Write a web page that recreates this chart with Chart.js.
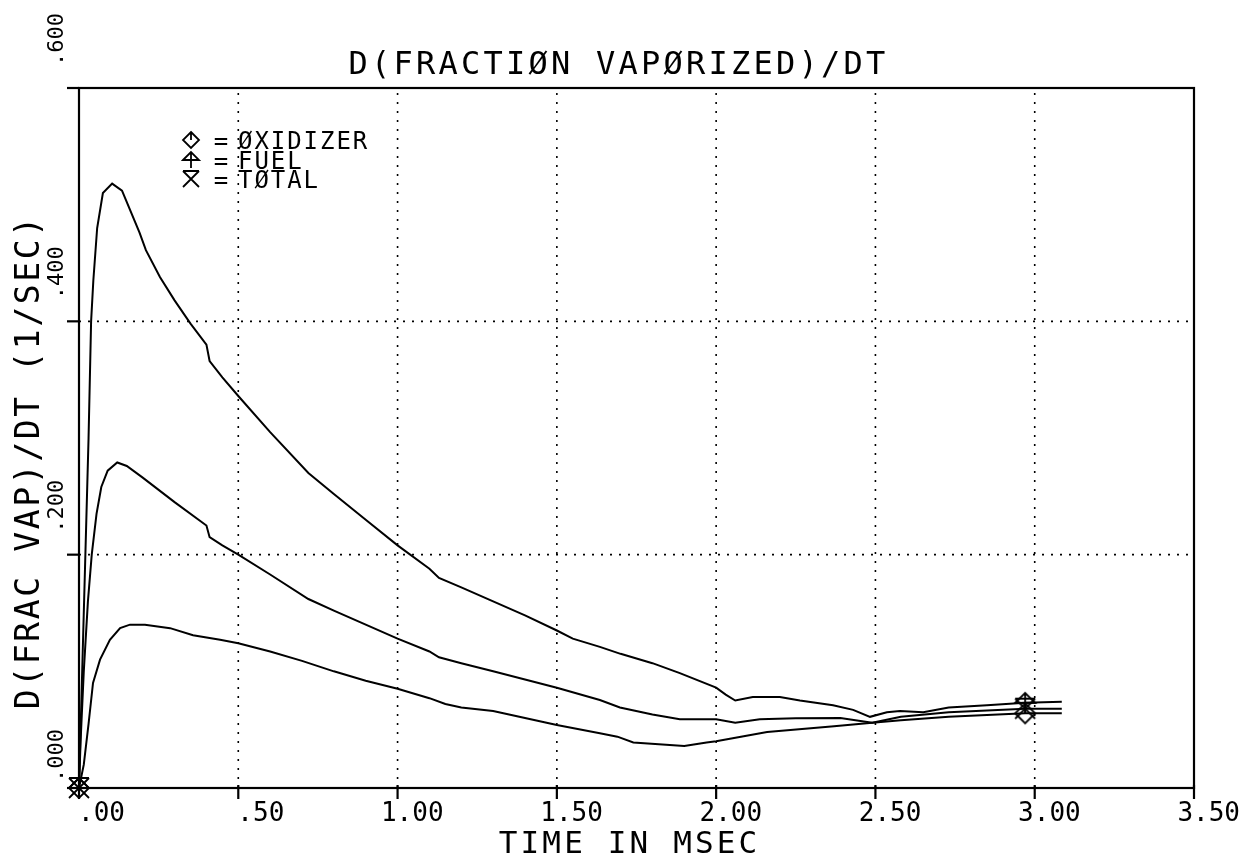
<!DOCTYPE html>
<html><head><meta charset="utf-8">
<script src="https://cdn.jsdelivr.net/npm/chart.js@4.4.1/dist/chart.umd.min.js"></script>
<style>html,body{margin:0;padding:0;background:#fff;}canvas{display:block;}</style>
</head><body>
<canvas id="c" width="1249" height="860"></canvas>
<script>
const chartTitle = 'D(FRACTIØN VAPØRIZED)/DT';
const xAxisTitle = 'TIME IN MSEC';
const yAxisTitle = 'D(FRAC VAP)/DT (1/SEC)';
const xTickLabels = ['.00', '.50', '1.00', '1.50', '2.00', '2.50', '3.00', '3.50'];
const yTickLabels = ['.000', '.200', '.400', '.600'];
const seriesNames = ['ØXIDIZER', 'FUEL', 'TØTAL'];
const markerTimes = [0, 2.97];

const fuelTime = [0, 0.01, 0.02, 0.03, 0.038, 0.045, 0.057, 0.075, 0.104, 0.135, 0.19, 0.21, 0.254, 0.3, 0.35, 0.4, 0.41, 0.45, 0.5, 0.6, 0.72, 0.8, 0.9, 1.0, 1.1, 1.13, 1.2, 1.3, 1.4, 1.5, 1.55, 1.635, 1.7, 1.8, 1.886, 2.0, 2.03, 2.06, 2.115, 2.2, 2.263, 2.367, 2.43, 2.483, 2.536, 2.577, 2.65, 2.73, 2.85, 2.97, 3.085];
const fuelRate = [0, 0.1, 0.2, 0.3, 0.4, 0.435, 0.48, 0.51, 0.518, 0.512, 0.476, 0.461, 0.438, 0.418, 0.398, 0.38, 0.366, 0.352, 0.336, 0.305, 0.27, 0.252, 0.23, 0.208, 0.188, 0.18, 0.172, 0.16, 0.148, 0.135, 0.128, 0.121, 0.115, 0.107, 0.0985, 0.086, 0.08, 0.075, 0.078, 0.078, 0.075, 0.071, 0.067, 0.061, 0.065, 0.066, 0.065, 0.069, 0.071, 0.073, 0.074];

const totalTime = [0, 0.005, 0.015, 0.028, 0.04, 0.055, 0.07, 0.09, 0.12, 0.15, 0.2, 0.3, 0.4, 0.41, 0.45, 0.5, 0.6, 0.72, 0.8, 0.9, 1.0, 1.1, 1.13, 1.2, 1.3, 1.4, 1.5, 1.635, 1.698, 1.8, 1.886, 2.0, 2.06, 2.137, 2.25, 2.39, 2.49, 2.58, 2.73, 2.97, 3.085];
const totalRate = [0, 0.04, 0.1, 0.16, 0.2, 0.235, 0.258, 0.272, 0.279, 0.276, 0.266, 0.245, 0.225, 0.215, 0.208, 0.2, 0.183, 0.162, 0.152, 0.14, 0.128, 0.117, 0.112, 0.107, 0.1, 0.093, 0.086, 0.0754, 0.069, 0.063, 0.059, 0.059, 0.056, 0.059, 0.0598, 0.06, 0.056, 0.061, 0.065, 0.068, 0.068];

const oxTime = [0, 0.015, 0.03, 0.044, 0.066, 0.097, 0.129, 0.16, 0.207, 0.286, 0.358, 0.443, 0.5, 0.6, 0.7, 0.8, 0.9, 1.0, 1.1, 1.15, 1.2, 1.3, 1.4, 1.5, 1.635, 1.69, 1.74, 1.9, 1.97, 2.0, 2.16, 2.37, 2.49, 2.58, 2.73, 2.97, 3.085];
const oxRate = [0, 0.02, 0.055, 0.09, 0.11, 0.127, 0.137, 0.14, 0.14, 0.137, 0.131, 0.127, 0.124, 0.117, 0.109, 0.1, 0.092, 0.085, 0.077, 0.072, 0.069, 0.066, 0.06, 0.054, 0.047, 0.044, 0.039, 0.036, 0.039, 0.04, 0.048, 0.053, 0.056, 0.058, 0.061, 0.064, 0.064];

const FONT = "'DejaVu Sans Mono', 'Liberation Mono', monospace";

function drawSymbol(g, kind, s) {
  g.save();
  g.strokeStyle = '#000'; g.lineWidth = 1.8; g.lineJoin = 'miter';
  g.beginPath();
  if (kind === 'ox') {
    g.moveTo(0, -s); g.lineTo(s, 0); g.lineTo(0, s); g.lineTo(-s, 0); g.closePath();
    g.moveTo(0, -s); g.lineTo(0, 0);
  } else if (kind === 'fuel') {
    g.moveTo(-s, 0); g.lineTo(0, -s); g.lineTo(s, 0); g.closePath();
    g.moveTo(0, -s); g.lineTo(0, s);
  } else {
    g.moveTo(-s, -s); g.lineTo(s, -s);
    g.moveTo(-s, -s); g.lineTo(s, s);
    g.moveTo(s, -s); g.lineTo(-s, s);
  }
  g.stroke();
  g.restore();
}
function makeMarker(kind) {
  const c = document.createElement('canvas');
  c.width = 26; c.height = 26;
  const g = c.getContext('2d');
  g.translate(13, 13);
  drawSymbol(g, kind, 10);
  return c;
}
const markers = { ox: makeMarker('ox'), fuel: makeMarker('fuel'), total: makeMarker('total') };

function toPoints(t, v) { return t.map((x, i) => ({ x: x, y: v[i] })); }
function isMarker(ctx) { return ctx.raw && markerTimes.includes(ctx.raw.x); }

function drawSpaced(ctx, text, x, y, pitch, align) {
  const total = text.length * pitch;
  let start = x;
  if (align === 'center') start = x - total / 2;
  else if (align === 'right') start = x - total;
  ctx.textAlign = 'center';
  for (let i = 0; i < text.length; i++) {
    ctx.fillText(text[i], start + (i + 0.5) * pitch, y);
  }
}

function line(ctx, x1, y1, x2, y2) { ctx.beginPath(); ctx.moveTo(x1, y1); ctx.lineTo(x2, y2); ctx.stroke(); }

const framePlugin = {
  id: 'framePlugin',
  beforeDatasetsDraw(chart) {
    const { ctx, chartArea: a, scales: { x, y } } = chart;
    ctx.save();
    ctx.strokeStyle = '#000';
    ctx.lineWidth = 1.6;
    ctx.setLineDash([2, 7]);
    x.ticks.forEach(t => {
      if (t.value > x.min && t.value < x.max) { const px = x.getPixelForValue(t.value); line(ctx, px, a.bottom, px, a.top); }
    });
    y.ticks.forEach(t => {
      if (t.value > y.min && t.value < y.max) { const py = y.getPixelForValue(t.value); line(ctx, a.left, py, a.right, py); }
    });
    ctx.setLineDash([]);
    ctx.lineWidth = 2.2;
    ctx.strokeRect(a.left, a.top, a.right - a.left, a.bottom - a.top);
    x.ticks.forEach(t => { const px = x.getPixelForValue(t.value); line(ctx, px, a.bottom - 3, px, a.bottom + 11); });
    y.ticks.forEach(t => { const py = y.getPixelForValue(t.value); line(ctx, a.left - 12, py, a.left, py); });
    ctx.restore();
  },
  afterDraw(chart) {
    const { ctx, chartArea: a, scales: { x, y } } = chart;
    ctx.save();
    ctx.fillStyle = '#000';
    ctx.textBaseline = 'alphabetic';
    // x tick labels
    ctx.font = '26px ' + FONT;
    ctx.textAlign = 'right';
    x.ticks.forEach(t => {
      const i = Math.round(t.value / 0.5);
      ctx.fillText(xTickLabels[i], x.getPixelForValue(t.value) + 46, a.bottom + 33);
    });
    // y tick labels (rotated)
    ctx.font = '22px ' + FONT;
    y.ticks.forEach(t => {
      const i = Math.round(t.value / 0.2);
      const py = y.getPixelForValue(t.value);
      const off = t.value === 0 ? 6 : 22;
      ctx.save();
      ctx.translate(a.left - 16, py - off);
      ctx.rotate(-Math.PI / 2);
      ctx.textAlign = 'left';
      ctx.fillText(yTickLabels[i], 0, 0);
      ctx.restore();
    });
    // title
    ctx.font = '32px ' + FONT;
    drawSpaced(ctx, chartTitle, 617, 74, 22.5, 'center');
    // x axis title
    ctx.font = '31px ' + FONT;
    drawSpaced(ctx, xAxisTitle, 628, 853, 21.8, 'center');
    // y axis title
    ctx.save();
    ctx.translate(39, 463);
    ctx.rotate(-Math.PI / 2);
    ctx.font = '33px ' + FONT;
    drawSpaced(ctx, yAxisTitle, 0, 0, 22.5, 'center');
    ctx.restore();
    // legend
    const kinds = ['ox', 'fuel', 'total'];
    const rowY = [140, 160, 179];
    ctx.font = '24px ' + FONT;
    kinds.forEach((k, i) => {
      ctx.save(); ctx.translate(191, rowY[i]); drawSymbol(ctx, k, 8); ctx.restore();
      drawSpaced(ctx, '=', 221, rowY[i] + 9, 16.4, 'center');
      drawSpaced(ctx, seriesNames[i], 237, rowY[i] + 9, 16.4, 'left');
    });
    ctx.restore();
  }
};

const dsStyle = (kind) => ({
  borderColor: '#000', borderWidth: 2, backgroundColor: '#000', tension: 0, fill: false,
  showLine: true, clip: false,
  pointStyle: ctx => isMarker(ctx) ? markers[kind] : false,
  pointRadius: ctx => isMarker(ctx) ? 10 : 0,
  pointHoverRadius: 0
});

new Chart(document.getElementById('c'), {
  type: 'scatter',
  data: {
    datasets: [
      Object.assign({ label: seriesNames[1], data: toPoints(fuelTime, fuelRate) }, dsStyle('fuel')),
      Object.assign({ label: seriesNames[2], data: toPoints(totalTime, totalRate) }, dsStyle('total')),
      Object.assign({ label: seriesNames[0], data: toPoints(oxTime, oxRate) }, dsStyle('ox'))
    ]
  },
  options: {
    responsive: false, animation: false, events: [],
    layout: { padding: { top: 88, right: 55, left: 0, bottom: 0 } },
    plugins: { legend: { display: false }, tooltip: { enabled: false }, title: { display: false } },
    scales: {
      x: { type: 'linear', min: 0, max: 3.5, ticks: { stepSize: 0.5, display: false }, grid: { display: false }, border: { display: false }, afterFit(s) { s.height = 72; } },
      y: { type: 'linear', min: 0, max: 0.6, ticks: { stepSize: 0.2, display: false }, grid: { display: false }, border: { display: false }, afterFit(s) { s.width = 79; } }
    }
  },
  plugins: [framePlugin]
});
</script>
</body></html>
